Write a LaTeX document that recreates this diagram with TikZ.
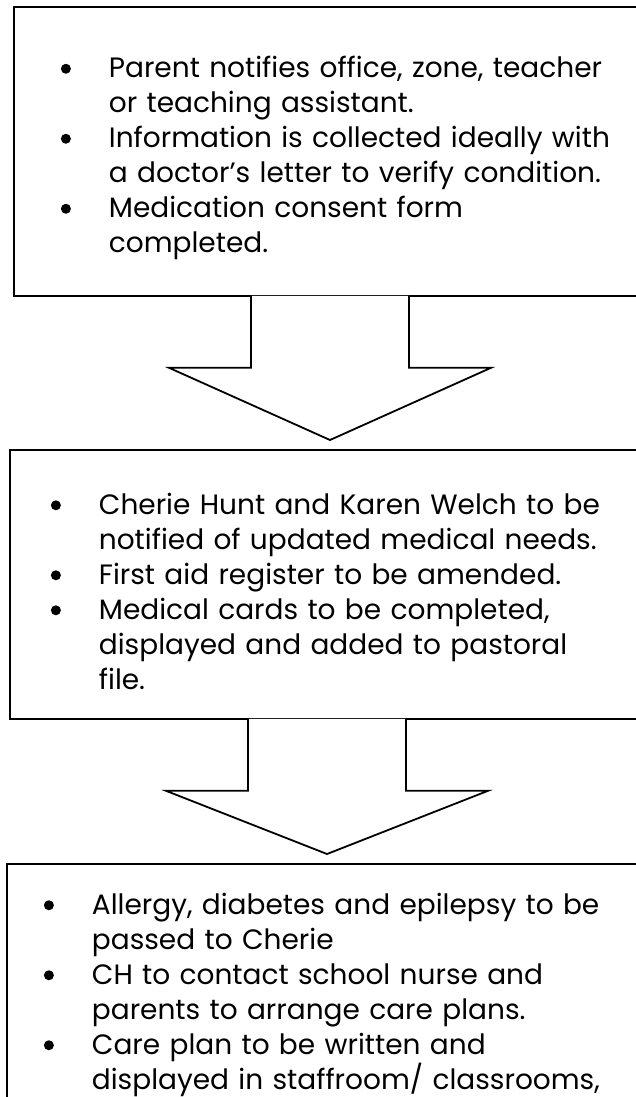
\documentclass[tikz,border=0pt]{standalone}
\usepackage{fontspec}
\setmainfont{Poppins}
\usetikzlibrary{calc}

\newcommand{\stepdot}{\raisebox{4pt}{\tikz\fill (0,0) circle (5pt);}}
\newenvironment{steps}{\begin{list}{\makebox[0pt]{\stepdot}}{%
  \setlength\leftmargin{43pt}\setlength\labelwidth{0pt}\setlength\labelsep{43pt}%
  \setlength\itemsep{0pt}\setlength\topsep{0pt}\setlength\parsep{0pt}\setlength\partopsep{0pt}}}%
  {\end{list}}

% block arrow from the foot of one box towards the next one
\newcommand{\blockarrow}[3]{%
  \coordinate (ax) at (#3,0);
  \coordinate (atop) at (ax |- #1.south);
  \coordinate (atip) at ($(ax |- #2.north)+(0,-9)$);
  \draw[arr] ($(atop)+(-79,-1)$) -- ($(atop)+(-79,71)$) -- ($(atop)+(-161,71)$) -- (atip)
    -- ($(atop)+(161,71)$) -- ($(atop)+(79,71)$) -- ($(atop)+(79,-1)$);
}

\begin{document}
\begin{tikzpicture}[x=1pt, y=-1pt,
 font=\fontsize{28pt}{35pt}\selectfont,
 blk/.style={draw, line width=1.8pt, inner ysep=0pt, anchor=north west, align=left},
 arr/.style={line width=1.8pt, fill=white, line join=miter}]
\useasboundingbox (0,0) rectangle (636,1097);
\clip (0,0) rectangle (636,1097);

\node[blk, inner xsep=52pt, text width=596pt, minimum height=289pt](b1) at (13,6){%
\begin{steps}
\item Parent notifies office, zone, teacher\\ or teaching assistant.
\item Information is collected ideally with\\ a doctor’s letter to verify condition.
\item Medication consent form\\ completed.
\end{steps}};
\node[blk, inner xsep=46pt, text width=608pt, minimum height=269pt](b2) at (9,449){%
\begin{steps}
\item Cherie Hunt and Karen Welch to be\\ notified of updated medical needs.
\item First aid register to be amended.
\item Medical cards to be completed,\\ displayed and added to pastoral\\ file.
\end{steps}};
\node[blk, inner xsep=42pt, text width=616pt, minimum height=248pt](b3) at (6,863){%
\begin{steps}
\item Allergy, diabetes and epilepsy to be\\ passed to Cherie
\item CH to contact school nurse and\\ parents to arrange care plans.
\item Care plan to be written and\\ displayed in staffroom/ classrooms,
\end{steps}};

\blockarrow{b1}{b2}{330}
\blockarrow{b2}{b3}{327}

\end{tikzpicture}
\end{document}
